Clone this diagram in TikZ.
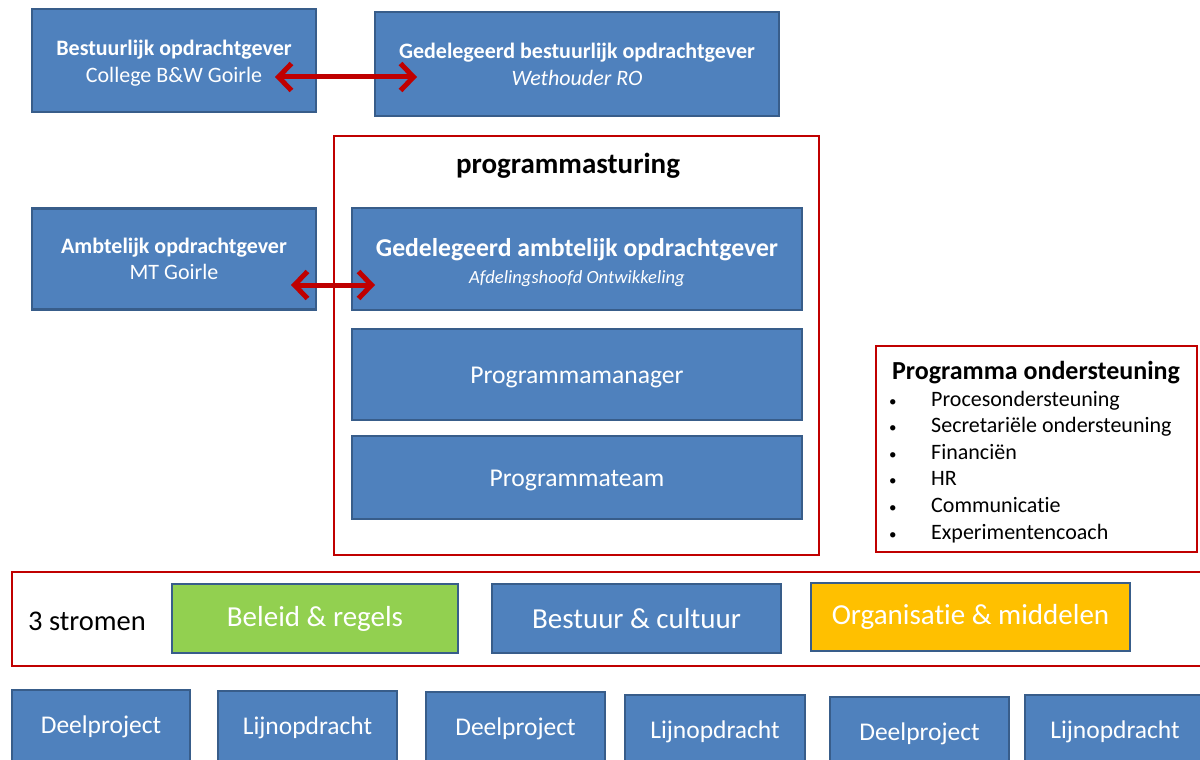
\documentclass[tikz,border=0pt]{standalone}
\usepackage{fontspec}
\setmainfont{Carlito}[Ligatures={NoCommon}]
\usetikzlibrary{arrows.meta}
\definecolor{bfill}{HTML}{4F81BD}
\definecolor{bdr}{HTML}{385D8A}
\definecolor{rood}{HTML}{C00000}
\definecolor{groen}{HTML}{92D050}
\definecolor{oranje}{HTML}{FFC000}
\newcommand{\fs}[2]{\fontsize{#1}{#2}\selectfont}
\tikzset{
  bluebox/.style={draw=bdr, fill=bfill, line width=2.2pt, text=white, align=center, inner sep=0pt, rectangle},
  redframe/.style={draw=rood, line width=2.5pt},
  dblarrow/.style={draw=rood, line width=5pt, {Straight Barb[length=13pt,width=27pt,line width=5pt]}-{Straight Barb[length=13pt,width=27pt,line width=5pt]}},
}
\begin{document}
\begin{tikzpicture}[x=1pt,y=-1pt]
\useasboundingbox (0,0) rectangle (1200,760);
\fill[white] (0,0) rectangle (1200,760);

% top row
\node[bluebox, minimum width=284pt, minimum height=103pt] (A) at (174,60.5) {};
\node[text=white, align=center, inner sep=0pt, font=\fs{22}{27}] (At) at (174,63)
  {\textbf{Bestuurlijk opdrachtgever}\\College B\&W Goirle};
\node[bluebox, minimum width=404pt, minimum height=104pt, font=\fs{22}{27}] (B) at (577,64)
  {\textbf{Gedelegeerd bestuurlijk opdrachtgever}\\\textit{Wethouder RO}};
\coordinate (a1) at (275,77);
\coordinate (b1) at (417,77);
\draw[dblarrow] (a1) -- (b1);

% programmasturing frame
\draw[redframe] (334,136) rectangle (819,555);
\node[font=\fs{29}{34}\bfseries, inner sep=0pt] (pst) at (568,166) {programmasturing};

\node[bluebox, minimum width=284pt, minimum height=101pt, font=\fs{22}{26}] (C) at (174,259)
  {\textbf{Ambtelijk opdrachtgever}\\MT Goirle};
\node[bluebox, minimum width=450pt, minimum height=102pt] (D) at (577,259) {};
\node[text=white, align=center, inner sep=0pt, font=\fs{18.6}{27}] (Dt) at (577,263)
  {{\fs{25.7}{27}\bfseries Gedelegeerd ambtelijk opdrachtgever}\\\textit{Afdelingshoofd Ontwikkeling}};
\coordinate (c1) at (291,285);
\coordinate (d1) at (375,285);
\draw[dblarrow] (c1) -- (d1);

\node[bluebox, minimum width=450pt, minimum height=91pt] (PM) at (577,374.5) {};
\node[text=white, inner sep=0pt, font=\fs{25.6}{30}] (PMt) at (577,377) {Programmamanager};
\node[bluebox, minimum width=450pt, minimum height=83pt] (PT) at (577,477.5) {};
\node[text=white, inner sep=0pt, font=\fs{25.6}{30}] (PTt) at (577,480) {Programmateam};

% ondersteuning
\draw[redframe] (876,346) rectangle (1197,552);
\node[font=\fs{26}{30}\bfseries, inner sep=0pt] (pot) at (1036,373) {Programma ondersteuning};
\node[anchor=base west, inner sep=0pt, font=\fs{22}{26.6}] (pol) at (884,406)
  {\setlength{\tabcolsep}{0pt}\renewcommand{\arraystretch}{1.0}%
   \begin{tabular}[t]{@{}p{47pt}@{}l@{}}
   \hspace{5pt}{\fs{15}{15}•} & Procesondersteuning\\
   \hspace{5pt}{\fs{15}{15}•} & Secretariële ondersteuning\\
   \hspace{5pt}{\fs{15}{15}•} & Financiën\\
   \hspace{5pt}{\fs{15}{15}•} & HR\\
   \hspace{5pt}{\fs{15}{15}•} & Communicatie\\
   \hspace{5pt}{\fs{15}{15}•} & Experimentencoach
   \end{tabular}};

% 3 stromen
\draw[redframe] (12,572) rectangle (1215,666);
\node[anchor=west, inner sep=0pt, font=\fs{28.5}{33}] (st) at (28,621) {3 stromen};
\node[bluebox, fill=groen, minimum width=286pt, minimum height=69pt, font=\fs{29}{34}] (S1) at (315,618.5) {Beleid \& regels};
\node[bluebox, minimum width=289pt, minimum height=69pt, font=\fs{29}{34}] (S2) at (636.5,618.5) {Bestuur \& cultuur};
\node[bluebox, fill=oranje, minimum width=319pt, minimum height=68pt, font=\fs{29}{34}] (S3) at (970.5,617) {Organisatie \& middelen};

% bottom row
\node[bluebox, minimum width=178pt, minimum height=74pt, font=\fs{25.5}{30}] (P1) at (101,727) {Deelproject};
\node[bluebox, minimum width=179pt, minimum height=74pt, font=\fs{25.5}{30}] (P2) at (307.5,728) {Lijnopdracht};
\node[bluebox, minimum width=179pt, minimum height=74pt, font=\fs{25.5}{30}] (P3) at (515.5,729) {Deelproject};
\node[bluebox, minimum width=180pt, minimum height=74pt, font=\fs{25.5}{30}] (P4) at (715,732) {Lijnopdracht};
\node[bluebox, minimum width=179pt, minimum height=74pt, font=\fs{25.5}{30}] (P5) at (919.5,734) {Deelproject};
\node[bluebox, minimum width=180pt, minimum height=74pt, font=\fs{25.5}{30}] (P6) at (1115,732) {Lijnopdracht};
\end{tikzpicture}
\end{document}
